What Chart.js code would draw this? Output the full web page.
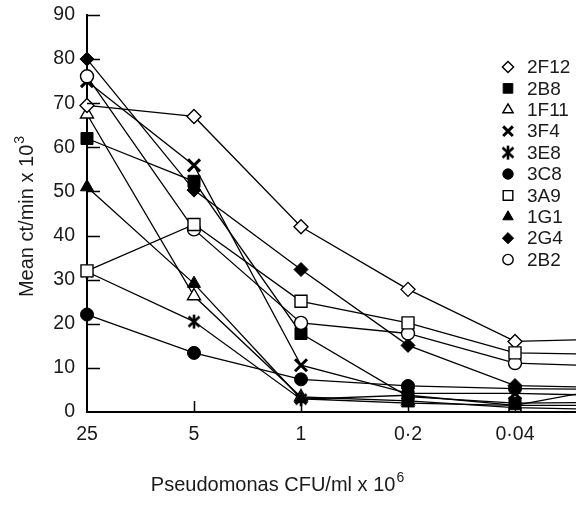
<!DOCTYPE html>
<html><head><meta charset="utf-8">
<script src="https://cdn.jsdelivr.net/npm/chart.js@4/dist/chart.umd.min.js"></script>
<style>html,body{margin:0;padding:0;background:#fff;overflow:hidden}#wrap{width:576px;height:522px}</style>
</head><body><div id="wrap"><canvas id="c" width="576" height="522"></canvas></div>
<script>
// Category positions (index along x) and visible tick labels
const concentrations = ['25', '5', '1', '0·2', '0·04', '0·008'];
const tickLabels = ['25', '5', '1', '0·2', '0·04'];
const yTicks = [0, 10, 20, 30, 40, 50, 60, 70, 80, 90];
const seriesNames = ['2F12', '2B8', '1F11', '3F4', '3E8', '3C8', '3A9', '1G1', '2G4', '2B2'];

// Mean ct/min x 10^3 for each antibody, one value per concentration
const v2F12 = [69.5, 67, 42, 27.8, 16, 16.6];
const v2B8  = [62, 52.3, 17.8, 3.5, 2.0, 2.2];
const v1F11 = [67.5, 26.3, 3.4, 2.5, 1.0, 0.5];
const v3F4  = [75, 55.9, 10.6, 4.2, 4.2, 3.7];
const v3E8  = [31.8, 20.5, 2.9, 3.8, 1.5, 6.0];
const v3C8  = [22.1, 13.4, 7.4, 5.9, 5.3, 5.1];
const v3A9  = [32, 42.5, 25.1, 20.2, 13.4, 13.0];
const v1G1  = [51, 29.1, 3.0, 2.0, 1.5, 1.5];
const v2G4  = [80, 50.3, 32.3, 15.1, 6.0, 5.5];
const v2B2  = [76.1, 41.4, 20.2, 17.8, 11.1, 10.3];
const seriesValues = [v2F12, v2B8, v1F11, v3F4, v3E8, v3C8, v3A9, v1G1, v2G4, v2B2];

// asterisk marker (6 arms)
function makeAsterisk() {
  const cv = document.createElement('canvas');
  cv.width = 16; cv.height = 16;
  const g = cv.getContext('2d');
  g.strokeStyle = '#000'; g.lineWidth = 2.6; g.lineCap = 'butt';
  g.beginPath();
  g.moveTo(8, 1); g.lineTo(8, 15);
  g.moveTo(2.5, 3); g.lineTo(13.5, 13);
  g.moveTo(13.5, 3); g.lineTo(2.5, 13);
  g.stroke();
  return cv;
}
const asterisk = makeAsterisk();

const styles = [
  {pointStyle: 'rectRot', r: 7, fill: '#fff', bw: 1.4, order: 3},
  {pointStyle: 'rect', r: 8.5, fill: '#000', bw: 1, order: 2},
  {pointStyle: 'triangle', r: 7.5, fill: '#fff', bw: 1.4, order: 6},
  {pointStyle: 'crossRot', r: 8.5, fill: '#000', bw: 3, order: 7},
  {pointStyle: asterisk, r: 8, fill: '#000', bw: 1, order: 9},
  {pointStyle: 'circle', r: 6.5, fill: '#000', bw: 1, order: 8},
  {pointStyle: 'rect', r: 8.5, fill: '#fff', bw: 1.4, order: 0},
  {pointStyle: 'triangle', r: 7.5, fill: '#000', bw: 1, order: 5},
  {pointStyle: 'rectRot', r: 7, fill: '#000', bw: 1, order: 4},
  {pointStyle: 'circle', r: 6.5, fill: '#fff', bw: 1.4, order: 1}
];

const FONT = '"Liberation Sans", Arial, Helvetica, sans-serif';

const datasets = seriesNames.map((name, i) => ({
  label: name,
  data: seriesValues[i].map((v, k) => ({x: k, y: v})),
  order: styles[i].order,
  borderColor: '#000',
  borderWidth: 1.3,
  pointStyle: styles[i].pointStyle,
  pointRadius: styles[i].r,
  pointHoverRadius: styles[i].r,
  pointBackgroundColor: styles[i].fill,
  pointBorderColor: '#000',
  pointBorderWidth: styles[i].bw,
  fill: false,
  tension: 0,
  clip: false
}));

const decor = {
  id: 'decor',
  afterDraw(chart) {
    const ctx = chart.ctx;
    const xs = chart.scales.x, ys = chart.scales.y;
    const area = chart.chartArea;
    ctx.save();
    // inward tick marks
    ctx.strokeStyle = '#000'; ctx.lineWidth = 1.5;
    ctx.beginPath();
    yTicks.forEach(v => {
      if (v === 0) return;
      const y = Math.round(ys.getPixelForValue(v)) + 0.5;
      ctx.moveTo(area.left, y); ctx.lineTo(area.left + 13, y);
    });
    tickLabels.forEach((t, k) => {
      if (k === 0) return;
      const x = Math.round(xs.getPixelForValue(k)) + 0.5;
      ctx.moveTo(x, area.bottom); ctx.lineTo(x, area.bottom - 11);
    });
    ctx.stroke();

    // legend
    ctx.font = '19px ' + FONT;
    ctx.textBaseline = 'middle';
    ctx.textAlign = 'left';
    chart.data.datasets.forEach((ds, i) => {
      const y = 67 + i * 21.4;
      ctx.fillStyle = ds.pointBackgroundColor;
      ctx.strokeStyle = '#000';
      ctx.lineWidth = ds.pointBorderWidth;
      Chart.helpers.drawPoint(ctx, {pointStyle: ds.pointStyle, radius: ds.pointRadius * 0.8, borderWidth: ds.pointBorderWidth, rotation: 0}, 508, y);
      ctx.fillStyle = '#1a1a1a';
      ctx.fillText(ds.label, 527, y + 1);
    });

    // axis titles with superscripts
    ctx.fillStyle = '#1a1a1a';
    const main = 'Pseudomonas CFU/ml x 10', sup = '6';
    ctx.font = '20px ' + FONT;
    const wm = ctx.measureText(main).width;
    ctx.font = '14px ' + FONT;
    const ws = ctx.measureText(sup).width;
    let x0 = 277 - (wm + ws) / 2;
    ctx.font = '20px ' + FONT;
    ctx.textBaseline = 'alphabetic';
    ctx.fillText(main, x0, 491);
    ctx.font = '14px ' + FONT;
    ctx.fillText(sup, x0 + wm + 1, 482);

    const ymain = 'Mean ct/min x 10', ysup = '3';
    ctx.font = '20px ' + FONT;
    const wym = ctx.measureText(ymain).width;
    ctx.font = '14px ' + FONT;
    const wys = ctx.measureText(ysup).width;
    ctx.translate(33, 217);
    ctx.rotate(-Math.PI / 2);
    const s0 = -(wym + wys) / 2;
    ctx.font = '20px ' + FONT;
    ctx.fillText(ymain, s0, 0);
    ctx.font = '14px ' + FONT;
    ctx.fillText(ysup, s0 + wym + 1, -9);
    ctx.restore();
  }
};

new Chart(document.getElementById('c'), {
  type: 'line',
  data: {datasets},
  plugins: [decor],
  options: {
    responsive: false,
    animation: false,
    devicePixelRatio: 1,
    layout: {autoPadding: false, padding: {top: 15, right: 0, bottom: 0, left: 0}},
    plugins: {legend: {display: false}, tooltip: {enabled: false}, title: {display: false}},
    scales: {
      x: {
        type: 'linear',
        min: 0,
        max: 4.57,
        afterBuildTicks: s => { s.ticks = tickLabels.map((t, k) => ({value: k})); },
        afterFit: s => { s.height = 110; s.paddingLeft = 0; s.paddingRight = 0; },
        grid: {display: false, drawTicks: false},
        border: {display: true, color: '#000', width: 2},
        ticks: {
          padding: 11,
          color: '#1a1a1a',
          font: {family: FONT, size: 19.5},
          maxRotation: 0,
          callback: v => tickLabels[v]
        }
      },
      y: {
        type: 'linear',
        min: 0,
        max: 90,
        afterBuildTicks: s => { s.ticks = yTicks.map(v => ({value: v})); },
        afterFit: s => { s.width = 87; s.paddingTop = 0; s.paddingBottom = 0; },
        grid: {display: false, drawTicks: false},
        border: {display: true, color: '#000', width: 2},
        ticks: {
          padding: 12,
          color: '#1a1a1a',
          font: {family: FONT, size: 19.5},
          callback: v => String(v)
        }
      }
    }
  }
});
</script>
</body></html>
